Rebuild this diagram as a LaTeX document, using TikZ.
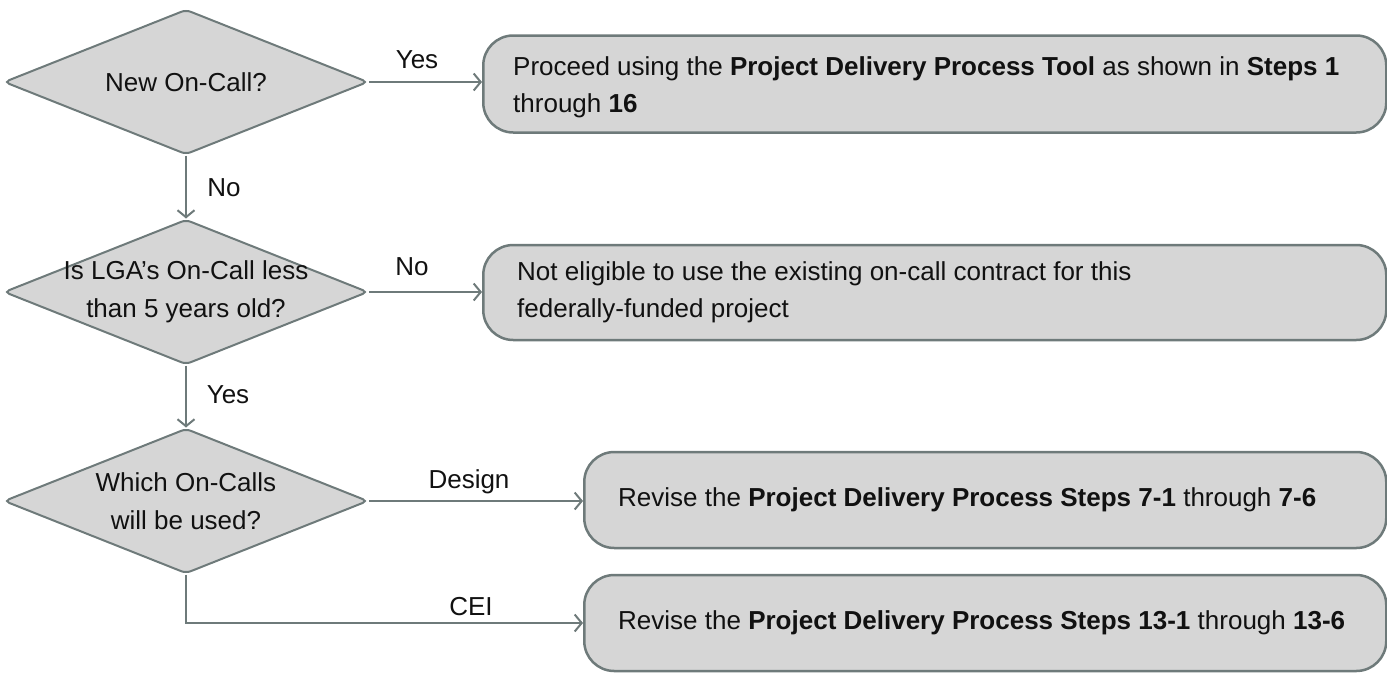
\documentclass[tikz,border=0pt]{standalone}
\usepackage{fontspec}
\setmainfont{Liberation Sans}
\usetikzlibrary{shapes.geometric,arrows.meta}
\definecolor{edgegrey}{RGB}{110,122,122}
\definecolor{boxfill}{RGB}{214,214,214}
\definecolor{txt}{RGB}{17,17,17}
\begin{document}
\begin{tikzpicture}[x=1pt,y=-1pt,
  font=\fontsize{26}{37}\selectfont,
  dia/.style={shape=diamond, draw=edgegrey, fill=boxfill, line width=2pt,
    minimum width=364pt, minimum height=145pt, inner sep=0pt, rounded corners=5pt},
  dlbl/.style={align=center, text=txt, font=\fontsize{26}{38}\selectfont},
  resbox/.style={shape=rectangle, draw=edgegrey, fill=boxfill, line width=2.5pt,
    rounded corners=30pt, anchor=west, inner sep=0pt},
  boxtext/.style={align=left, text=txt, anchor=west, inner sep=0pt},
  conn/.style={draw=edgegrey, line width=2pt, -{Straight Barb[length=7pt,width=17pt,line width=2pt]}},
  elbl/.style={text=txt, inner sep=0pt},
]
\useasboundingbox (0,0) rectangle (1387,673);

\node[dia, label={[dlbl]center:New On-Call?}] (d1) at (186,82) {};
\node[dia, label={[dlbl]center:Is LGA’s On-Call less\\than 5 years old?}] (d2) at (186,292) {};
\node[dia, label={[dlbl]center:Which On-Calls\\will be used?}] (d3) at (186,501) {};

\node[resbox, minimum width=903pt, minimum height=97pt] (b1) at (482,84) {};
\node[resbox, minimum width=903pt, minimum height=95pt] (b2) at (482,292.5) {};
\node[resbox, minimum width=802pt, minimum height=96pt] (b3) at (583,500) {};
\node[resbox, minimum width=802pt, minimum height=96pt] (b4) at (583,623) {};

\node[boxtext] (t1) at ([xshift=31pt,yshift=-3pt]b1.west)
  {Proceed using the \textbf{Project Delivery Process Tool} as shown in \textbf{Steps 1}\\through \textbf{16}};
\node[boxtext] (t2) at ([xshift=35pt]b2.west)
  {Not eligible to use the existing on-call contract for this\\federally-funded project};
\node[boxtext] (t3) at ([xshift=35pt]b3.west)
  {Revise the \textbf{Project Delivery Process Steps 7-1} through \textbf{7-6}};
\node[boxtext] (t4) at ([xshift=35pt]b4.west)
  {Revise the \textbf{Project Delivery Process Steps 13-1} through \textbf{13-6}};

\draw[conn] (d1.east) -- (d1.east -| b1.west);
\draw[conn] (d1.south) -- (d2.north);
\draw[conn] (d2.east) -- (d2.east -| b2.west);
\draw[conn] (d2.south) -- (d3.north);
\draw[conn] (d3.east) -- (d3.east -| b3.west);
\draw[conn] (d3.south) |- (b4.west);

\node[elbl] (lyes1) at (417,60) {Yes};
\node[elbl] (lno1) at (224,188) {No};
\node[elbl] (lno2) at (412,267) {No};
\node[elbl] (lyes2) at (228,395) {Yes};
\node[elbl] (ldes) at (469,482) {Design};
\node[elbl] (lcei) at (471,607) {CEI};
\end{tikzpicture}
\end{document}
